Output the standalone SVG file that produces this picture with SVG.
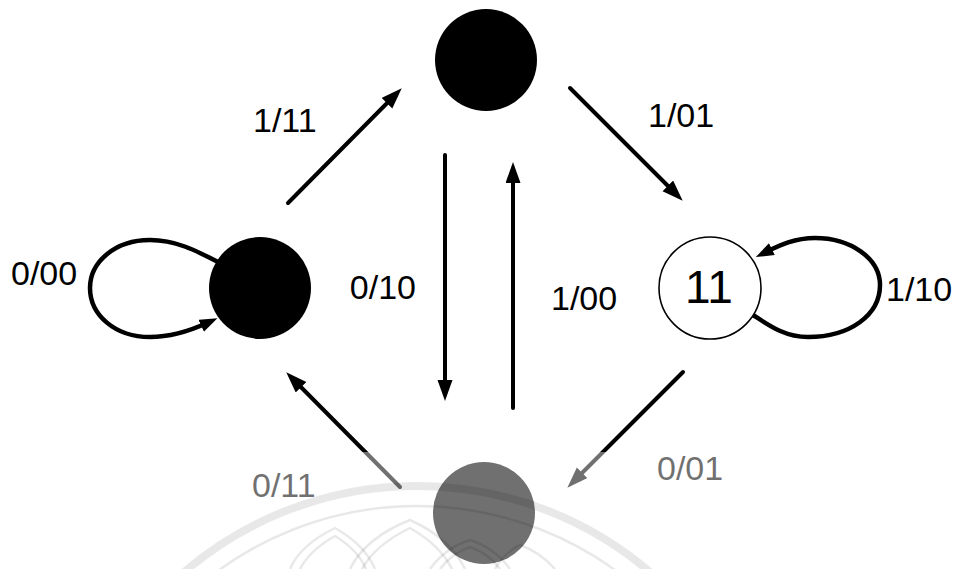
<svg xmlns="http://www.w3.org/2000/svg" width="963" height="569" viewBox="0 0 963 569">
  <style>
    .state { fill: #000; }
    .state-open { fill: #fff; stroke: #000; stroke-width: 1.6; }
    .edge { fill: none; stroke: #000; stroke-width: 4; stroke-linecap: round; marker-end: url(#arrow); }
    .loop { fill: none; stroke: #000; stroke-width: 4.5; stroke-linecap: round; marker-end: url(#arrow-s); }
    .lbl { font-family: "Liberation Sans", Arial, sans-serif; font-size: 34px; fill: #000; }
    .name { font-family: "Liberation Sans", Arial, sans-serif; font-size: 46px; fill: #000; text-anchor: middle; }
    .wm { fill: none; stroke: #000; stroke-opacity: 0.09; }
  </style>
  <defs>
    <marker id="arrow" markerUnits="userSpaceOnUse" markerWidth="24" markerHeight="17" refX="8" refY="7.5" orient="auto">
      <path d="M0,0 L21,7.5 L0,15 Z" fill="#000"/>
    </marker>
    <marker id="arrow-s" markerUnits="userSpaceOnUse" markerWidth="22" markerHeight="16" refX="7" refY="6.5" orient="auto">
      <path d="M0,0 L18,6.5 L0,13 Z" fill="#000"/>
    </marker>
  </defs>
  <rect width="963" height="569" fill="#fff"/>

  <!-- transitions -->
  <g id="connectors">
    <line class="edge" x1="288" y1="203" x2="392.6" y2="97.5"/>
    <line class="edge" x1="570" y1="88" x2="673.5" y2="191.5"/>
    <line class="edge" x1="445" y1="155" x2="445" y2="388"/>
    <line class="edge" x1="513" y1="408" x2="513" y2="175"/>
    <line class="edge" x1="400" y1="487" x2="295.4" y2="381.5"/>
    <line class="edge" x1="683" y1="372" x2="576.5" y2="478.5"/>
    <path class="loop" d="M218,262 C195,250 175,240 150,240 C115,240 90,262 90,288 C90,315 115,337 150,337 C172,337 192,330 207.5,322.8"/>
    <path class="loop" d="M753,315 C770,326 785,337 808,337 C850,337 880,315 880,285 C880,258 850,238 815,238 C795,238 780,245 765.6,252.2"/>
  </g>

  <!-- edge labels -->
  <g id="labels">
    <text class="lbl" x="253" y="132">1/11</text>
    <text class="lbl" x="648" y="127">1/01</text>
    <text class="lbl" x="11" y="285">0/00</text>
    <text class="lbl" x="416" y="299" text-anchor="end">0/10</text>
    <text class="lbl" x="551" y="310">1/00</text>
    <text class="lbl" x="886" y="301">1/10</text>
    <text class="lbl" x="252" y="497">0/11</text>
    <text class="lbl" x="657" y="480">0/01</text>
  </g>

  <!-- states -->
  <g id="state-top"><circle class="state" cx="486" cy="60" r="51"/></g>
  <g id="state-left"><circle class="state" cx="260" cy="288" r="51"/></g>
  <g id="state-right">
    <circle class="state-open" cx="710" cy="288" r="51"/>
    <text class="name" x="709" y="303">11</text>
  </g>
  <g id="state-bottom"><circle class="state" cx="484" cy="513" r="51"/></g>

  <!-- faded seal in the lower part of the sheet -->
  <g id="seal">
    <rect x="0" y="452" width="963" height="117" fill="#fff" fill-opacity="0.44"/>
    <circle class="wm" cx="417" cy="844" r="358" stroke-width="8"/>
    <circle class="wm" cx="417" cy="844" r="338" stroke-width="2.5"/>
    <g class="wm" stroke-width="2.5">
      <path d="M290,569 Q300,545 335,528 Q365,545 375,569"/>
      <path d="M300,569 Q310,550 335,536 Q358,550 366,569"/>
      <path d="M350,569 Q365,538 410,520 Q450,538 465,569"/>
      <path d="M362,569 Q375,545 410,528 Q440,545 452,569"/>
      <path d="M430,569 Q445,548 470,540 Q495,548 510,569"/>
      <path d="M440,569 Q452,553 470,547 Q488,553 500,569"/>
      <path d="M495,569 Q505,552 520,545 Q540,552 555,569"/>
    </g>
  </g>
</svg>
